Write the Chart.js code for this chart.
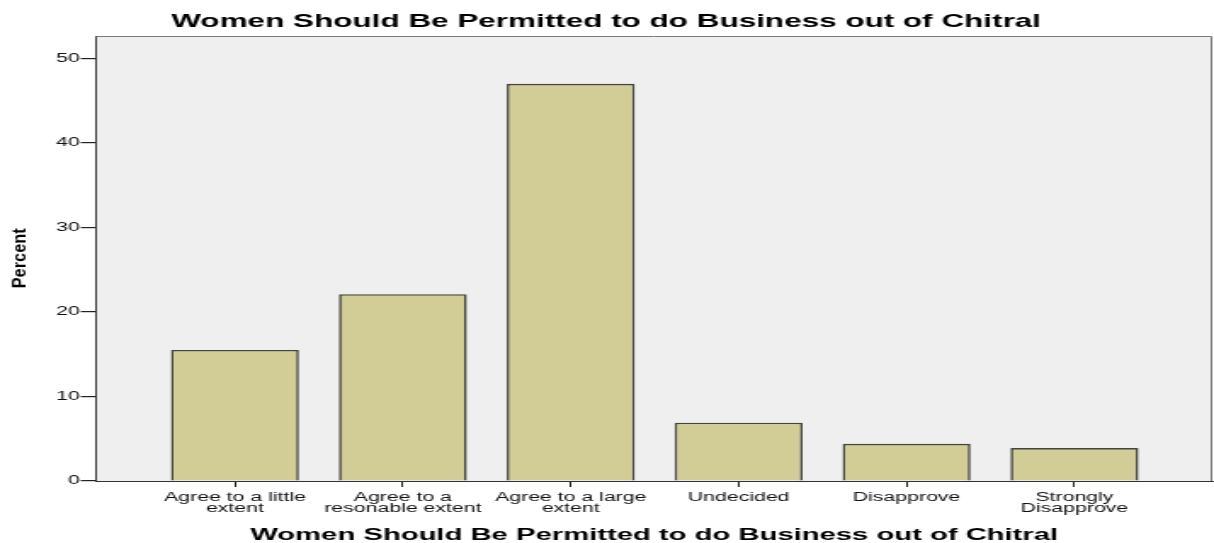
<!DOCTYPE html>
<html>
<head>
<meta charset="utf-8">
<script src="https://cdn.jsdelivr.net/npm/chart.js@4/dist/chart.umd.min.js"></script>
<style>
  html, body { margin: 0; padding: 0; background: #ffffff; overflow: hidden; width: 1214px; height: 543px; }
  #wrap { width: 714px; height: 543px; transform: scaleX(1.70028); transform-origin: 0 0; }
  canvas { display: block; }
</style>
</head>
<body>
<div id="wrap"><canvas id="c" width="714" height="543"></canvas></div>
<script>
// ---- data ----
const chartTitle = "Women Should Be Permitted to do Business out of Chitral";
const xAxisTitle = "Women Should Be Permitted to do Business out of Chitral";
const yAxisTitle = "Percent";
const categories = [
  ["Agree to a little", "extent"],
  ["Agree to a", "resonable extent"],
  ["Agree to a large", "extent"],
  "Undecided",
  "Disapprove",
  ["Strongly", "Disapprove"]
];
const percentValues = [15.5, 22.1, 47.0, 6.9, 4.4, 3.9];
const yTickValues = [0, 10, 20, 30, 40, 50];

const FONT = "'Liberation Sans', Arial, sans-serif";

const boxPlugin = {
  id: 'box',
  beforeDraw(chart) {
    const { ctx, chartArea: a } = chart;
    ctx.save();
    ctx.fillStyle = '#efefef';
    ctx.fillRect(a.left, a.top, a.right - a.left, a.bottom - a.top);
    ctx.restore();
  },
  afterDraw(chart) {
    const { ctx, chartArea: a } = chart;
    ctx.save();
    ctx.strokeStyle = '#7a7a7a';
    ctx.lineWidth = 1;
    ctx.beginPath();
    ctx.moveTo(a.left, a.top + 0.5);
    ctx.lineTo(a.right - 0.5, a.top + 0.5);
    ctx.lineTo(a.right - 0.5, a.bottom);
    ctx.stroke();
    // y axis title (rotated, condensed)
    ctx.fillStyle = '#000';
    ctx.font = "bold 11.2px " + FONT;
    ctx.translate(14.9, 258.3);
    ctx.rotate(-Math.PI / 2);
    const w = ctx.measureText(yAxisTitle).width;
    ctx.scale(60 / w, 1);
    ctx.textAlign = 'center';
    ctx.textBaseline = 'alphabetic';
    ctx.fillText(yAxisTitle, 0, 0);
    ctx.restore();
  }
};

new Chart(document.getElementById('c'), {
  type: 'bar',
  data: {
    datasets: [{
      data: percentValues.map((v, i) => ({ x: i, y: v })),
      backgroundColor: '#d2cd97',
      borderColor: '#45453c',
      borderWidth: 1.6,
      barPercentage: 0.762,
      categoryPercentage: 1.0
    }]
  },
  options: {
    responsive: false,
    animation: false,
    events: [],
    layout: { padding: { left: 0, right: 1, top: 0, bottom: 0 } },
    plugins: {
      legend: { display: false },
      tooltip: { enabled: false },
      title: {
        display: true,
        text: chartTitle,
        color: '#000',
        font: { family: FONT, size: 18.5, weight: 'bold', lineHeight: 1.2 },
        padding: { top: 10.7, bottom: 3.1 }
      }
    },
    scales: {
      x: {
        type: 'linear',
        min: -0.827,
        max: 5.821,
        offset: false,
        afterBuildTicks(scale) { scale.ticks = categories.map((_, i) => ({ value: i })); },
        afterFit(scale) { scale.height = 62; },
        grid: { offset: false, drawOnChartArea: false, drawTicks: true, tickLength: 6, color: '#222', lineWidth: 1 },
        border: { display: true, color: '#333', width: 1 },
        ticks: {
          autoSkip: false,
          maxRotation: 0,
          padding: 5,
          color: '#111',
          font: { family: FONT, size: 12.5, lineHeight: 0.9 },
          callback: (v) => categories[v]
        },
        title: {
          display: true,
          text: xAxisTitle,
          color: '#000',
          font: { family: FONT, size: 17.2, weight: 'bold', lineHeight: 0.8 },
          padding: { top: 0, bottom: 0.5 }
        }
      },
      y: {
        min: 0,
        max: 52.66,
        afterBuildTicks(scale) { scale.ticks = yTickValues.map(v => ({ value: v })); },
        afterFit(scale) { scale.width = 56.5; },
        grid: { drawOnChartArea: false, drawTicks: true, tickLength: 9, color: '#222', lineWidth: 1.2 },
        border: { display: true, color: '#333', width: 1 },
        ticks: {
          padding: 0.5,
          color: '#111',
          font: { family: FONT, size: 12.5 }
        }
      }
    }
  },
  plugins: [boxPlugin]
});
</script>
</body>
</html>
